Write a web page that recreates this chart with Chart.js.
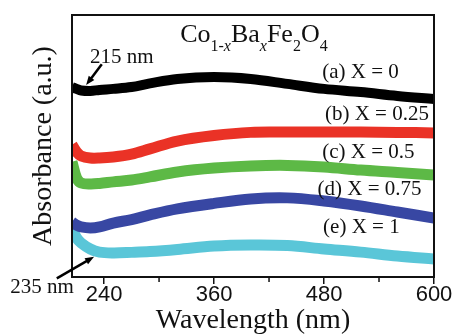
<!DOCTYPE html>
<html>
<head>
<meta charset="utf-8">
<script src="https://cdn.jsdelivr.net/npm/chart.js@4"></script>
<style>
  html, body { margin: 0; padding: 0; background: #fff; }
  canvas { display: block; }
</style>
</head>
<body>
<canvas id="uv-chart" width="455" height="336"></canvas>
<script>
// wavelength grid (nm) and absorbance values (a.u., offset for each sample)
const wavelengths = [205, 210, 215, 225, 235, 250, 270, 290, 320, 360, 400, 440, 480, 520, 560, 600];
const absX0 = [72.5, 71.8, 71.2, 71.0, 71.4, 71.8, 72.5, 73.9, 75.6, 76.3, 75.6, 73.7, 71.8, 70.6, 69.1, 67.9];
const absX025 = [50.5, 47.7, 46.2, 45.4, 45.4, 45.8, 46.9, 48.9, 51.9, 54.0, 55.2, 55.3, 55.3, 55.3, 55.2, 55.0];
const absX05 = [44.0, 37.8, 35.9, 35.5, 35.7, 36.3, 37.0, 38.2, 40.1, 41.6, 42.4, 42.6, 42.0, 40.8, 39.9, 38.9];
const absX075 = [21.0, 19.8, 19.1, 18.7, 19.1, 20.6, 21.9, 23.7, 26.0, 28.1, 29.8, 30.2, 29.0, 27.1, 24.8, 22.5];
const absX1 = [18.7, 14.9, 13.0, 10.7, 9.5, 9.2, 9.4, 9.7, 10.5, 11.8, 12.2, 12.0, 10.7, 9.5, 8.0, 6.9];

const seriesNames = ["(a) X = 0", "(b) X = 0.25", "(c) X = 0.5", "(d) X = 0.75", "(e) X = 1"];
const seriesColors = ["#000000", "#ea3226", "#5db946", "#3847a3", "#5ac6d8"];
const seriesValues = [absX0, absX025, absX05, absX075, absX1];

// where the sample labels sit (nm, absorbance of baseline)
const labelNm = [478, 481, 478, 473, 479];
const labelAbs = [76.0, 59.8, 45.4, 31.3, 16.8];

const xTicks = [240, 300, 360, 420, 480, 540, 600];

// formula pieces for Co(1-x)Ba(x)Fe2O4
const formulaParts = [
  { text: "Co" }, { text: "1-", sub: true }, { text: "x", sub: true, italic: true },
  { text: "Ba" }, { text: "x", sub: true, italic: true },
  { text: "Fe" }, { text: "2", sub: true }, { text: "O" }, { text: "4", sub: true },
];
const formulaAt = [323, 89.7];

// peak markers: label position, arrow start, arrow tip
const peakLabels = ["215 nm", "235 nm"];
const peakLabelAt = [[224.7, 81.6], [137.5, -6.1]];
const arrowFrom = [[237.5, 81.2], [188.4, -0.5]];
const arrowTo = [[220.4, 73.3], [229.1, 7.7]];

const serif = '"Liberation Serif", "Times New Roman", serif';
const sans = '"Liberation Sans", Arial, sans-serif';

function drawArrow(ctx, x1, y1, x2, y2) {
  const ang = Math.atan2(y2 - y1, x2 - x1);
  const head = 9;
  ctx.beginPath();
  ctx.moveTo(x1, y1);
  ctx.lineTo(x2 - Math.cos(ang) * head * 0.8, y2 - Math.sin(ang) * head * 0.8);
  ctx.stroke();
  ctx.beginPath();
  ctx.moveTo(x2, y2);
  ctx.lineTo(x2 - head * Math.cos(ang) + 3.5 * Math.sin(ang), y2 - head * Math.sin(ang) - 3.5 * Math.cos(ang));
  ctx.lineTo(x2 - head * Math.cos(ang) - 3.5 * Math.sin(ang), y2 - head * Math.sin(ang) + 3.5 * Math.cos(ang));
  ctx.closePath();
  ctx.fill();
}

const annotationPlugin = {
  id: "annotations",
  afterDraw(chart) {
    const { ctx, chartArea, scales } = chart;
    const xs = scales.x;
    const ys = scales.y;
    ctx.save();

    // frame around the plot
    ctx.strokeStyle = "#111";
    ctx.lineWidth = 2;
    ctx.strokeRect(chartArea.left, chartArea.top, chartArea.width, chartArea.height);

    // minor ticks
    ctx.lineWidth = 1.5;
    ctx.beginPath();
    xTicks.filter((v) => v % 120 !== 0).forEach((v) => {
      const px = xs.getPixelForValue(v);
      ctx.moveTo(px, chartArea.bottom);
      ctx.lineTo(px, chartArea.bottom + 5);
    });
    ctx.stroke();

    ctx.fillStyle = "#111";
    ctx.textAlign = "left";
    ctx.textBaseline = "alphabetic";

    // sample labels
    ctx.font = "21px " + serif;
    seriesNames.forEach((t, i) => {
      ctx.fillText(t, xs.getPixelForValue(labelNm[i]), ys.getPixelForValue(labelAbs[i]));
    });

    // formula
    let fx = xs.getPixelForValue(formulaAt[0]);
    const fy = ys.getPixelForValue(formulaAt[1]);
    formulaParts.forEach((p) => {
      ctx.font = (p.italic ? "italic " : "") + (p.sub ? "16px " : "26px ") + serif;
      ctx.fillText(p.text, fx, fy + (p.sub ? 9 : 0));
      fx += ctx.measureText(p.text).width;
    });

    // peak labels and arrows
    ctx.font = "21px " + serif;
    peakLabels.forEach((t, i) => {
      ctx.fillText(t, xs.getPixelForValue(peakLabelAt[i][0]), ys.getPixelForValue(peakLabelAt[i][1]));
    });
    ctx.strokeStyle = "#000";
    ctx.fillStyle = "#000";
    ctx.lineWidth = 2.5;
    arrowFrom.forEach((a, i) => {
      drawArrow(ctx,
        xs.getPixelForValue(a[0]), ys.getPixelForValue(a[1]),
        xs.getPixelForValue(arrowTo[i][0]), ys.getPixelForValue(arrowTo[i][1]));
    });
    ctx.restore();
  },
};

const ctx = document.getElementById("uv-chart");

new Chart(ctx, {
  type: "line",
  data: {
    datasets: seriesValues.map((vals, i) => ({
      label: seriesNames[i],
      data: wavelengths.map((w, j) => ({ x: w, y: vals[j] })),
      borderColor: seriesColors[i],
      borderWidth: i === 0 ? 10 : 11,
      pointRadius: 0,
      tension: 0.35,
      clip: 0,
    })),
  },
  options: {
    responsive: false,
    animation: false,
    layout: { padding: { top: 15, right: 21, left: 0, bottom: 0 } },
    plugins: { legend: { display: false }, tooltip: { enabled: false } },
    scales: {
      x: {
        type: "linear",
        min: 205,
        max: 600,
        afterBuildTicks: (scale) => {
          scale.ticks = xTicks.map((v) => ({ value: v }));
        },
        afterFit: (scale) => {
          scale.height = 59;
        },
        border: { display: false },
        grid: {
          drawOnChartArea: false,
          drawTicks: true,
          tickLength: 7,
          lineWidth: 1.5,
          color: (c) => (c.tick && c.tick.value % 120 === 0 ? "#111" : "rgba(0,0,0,0)"),
        },
        ticks: {
          color: "#111",
          padding: 0,
          maxRotation: 0,
          font: { family: sans, size: 22, lineHeight: 1 },
          callback: (v) => (v % 120 === 0 ? v : ""),
        },
        title: {
          display: true,
          text: "Wavelength (nm)",
          color: "#111",
          padding: { top: 0, bottom: 0 },
          font: { family: serif, size: 28, lineHeight: 1.1 },
        },
      },
      y: {
        min: 0,
        max: 100,
        afterFit: (scale) => {
          scale.width = 72;
        },
        border: { display: false },
        grid: { display: false },
        ticks: { display: false },
        title: {
          display: true,
          text: "Absorbance (a.u.)",
          color: "#111",
          padding: { top: 27, bottom: 0 },
          font: { family: serif, size: 28 },
        },
      },
    },
  },
  plugins: [annotationPlugin],
});
</script>
</body>
</html>
